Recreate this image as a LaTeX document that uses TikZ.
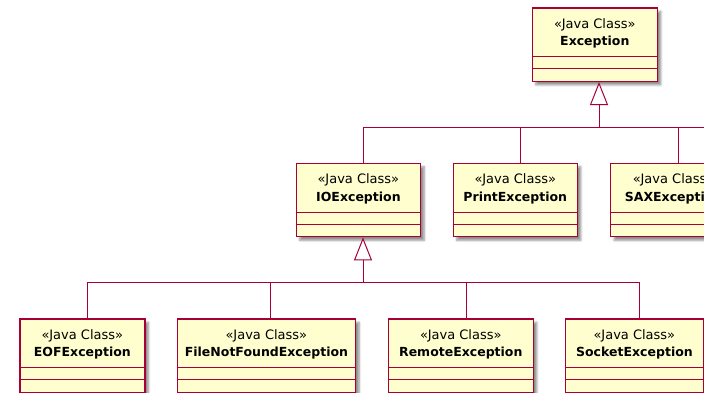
\documentclass[tikz,border=0pt]{standalone}
\usepackage{fontspec}
\setmainfont{DejaVu Sans}
\usetikzlibrary{arrows.meta,shadows.blur}
\definecolor{umlborder}{HTML}{A80036}
\definecolor{umlfill}{HTML}{FEFECE}
\newcommand\umlclass[5]{%
  \node[classbox, minimum width=#4pt, anchor=north west] (#1) at (#2,#3) {};
  \node[stereo, anchor=base] (#1-st) at ([yshift=-21pt]#1.north) {«Java Class»};
  \node[cname, anchor=base] (#1-nm) at ([yshift=-38.5pt]#1.north) {#5};
  \draw[sep] ([yshift=-49.5pt]#1.north west) -- ([yshift=-49.5pt]#1.north east);
  \draw[sep] ([yshift=-61.5pt]#1.north west) -- ([yshift=-61.5pt]#1.north east);
}
\begin{document}
\begin{tikzpicture}[x=1pt,y=-1pt,
  classbox/.style={draw=umlborder, fill=umlfill, line width=1.2pt, minimum height=73.5pt, inner sep=0pt,
    blur shadow={shadow xshift=3.5pt, shadow yshift=-3.5pt, shadow blur steps=6, shadow opacity=45}},
  stereo/.style={font=\fontsize{13}{15}\selectfont, inner sep=0pt},
  cname/.style={font=\fontsize{12.5}{14}\selectfont\bfseries, inner sep=0pt},
  sep/.style={draw=umlborder, line width=1pt},
  conn/.style={draw=umlborder, line width=1pt},
  inh/.style={conn, -{Triangle[open, length=23pt, width=18pt, fill=white]}}]
\useasboundingbox (0,0) rectangle (704,392);
\clip (0,0) rectangle (704,392);

\umlclass{exc}{531.7}{7.3}{125}{Exception}
\umlclass{ioe}{295.7}{162.7}{124.3}{IOException}
\umlclass{prt}{452.7}{162.7}{124}{PrintException}
\umlclass{sax}{610}{162.7}{126}{SAXException}
\umlclass{eof}{19.3}{318.3}{125}{EOFException}
\umlclass{fnf}{176.7}{318.3}{178.3}{FileNotFoundException}
\umlclass{rem}{387.7}{318.3}{145}{RemoteException}
\umlclass{sck}{565}{318.3}{137.7}{SocketException}

% level 1 inheritance
\coordinate (j1) at (599,127);
\coordinate (j1r) at (720,127);
\coordinate (ioeT) at (363,162.7);
\coordinate (prtT) at (520.7,162.7);
\coordinate (saxT) at (678,162.7);
\draw[inh] (j1) -- (j1 |- exc.south);
\draw[conn] (ioeT) |- (j1r);
\draw[conn] (prtT) -- (prtT |- j1);
\draw[conn] (saxT) -- (saxT |- j1);

% level 2 inheritance
\coordinate (j2) at (363,282);
\coordinate (eofT) at (87.3,318.3);
\coordinate (fnfT) at (270.7,318.3);
\coordinate (remT) at (466,318.3);
\coordinate (sckT) at (639.3,318.3);
\draw[inh] (j2) -- (j2 |- ioe.south);
\draw[conn] (eofT) |- (j2);
\draw[conn] (j2) -| (sckT);
\draw[conn] (fnfT) -- (fnfT |- j2);
\draw[conn] (remT) -- (remT |- j2);
\end{tikzpicture}
\end{document}
